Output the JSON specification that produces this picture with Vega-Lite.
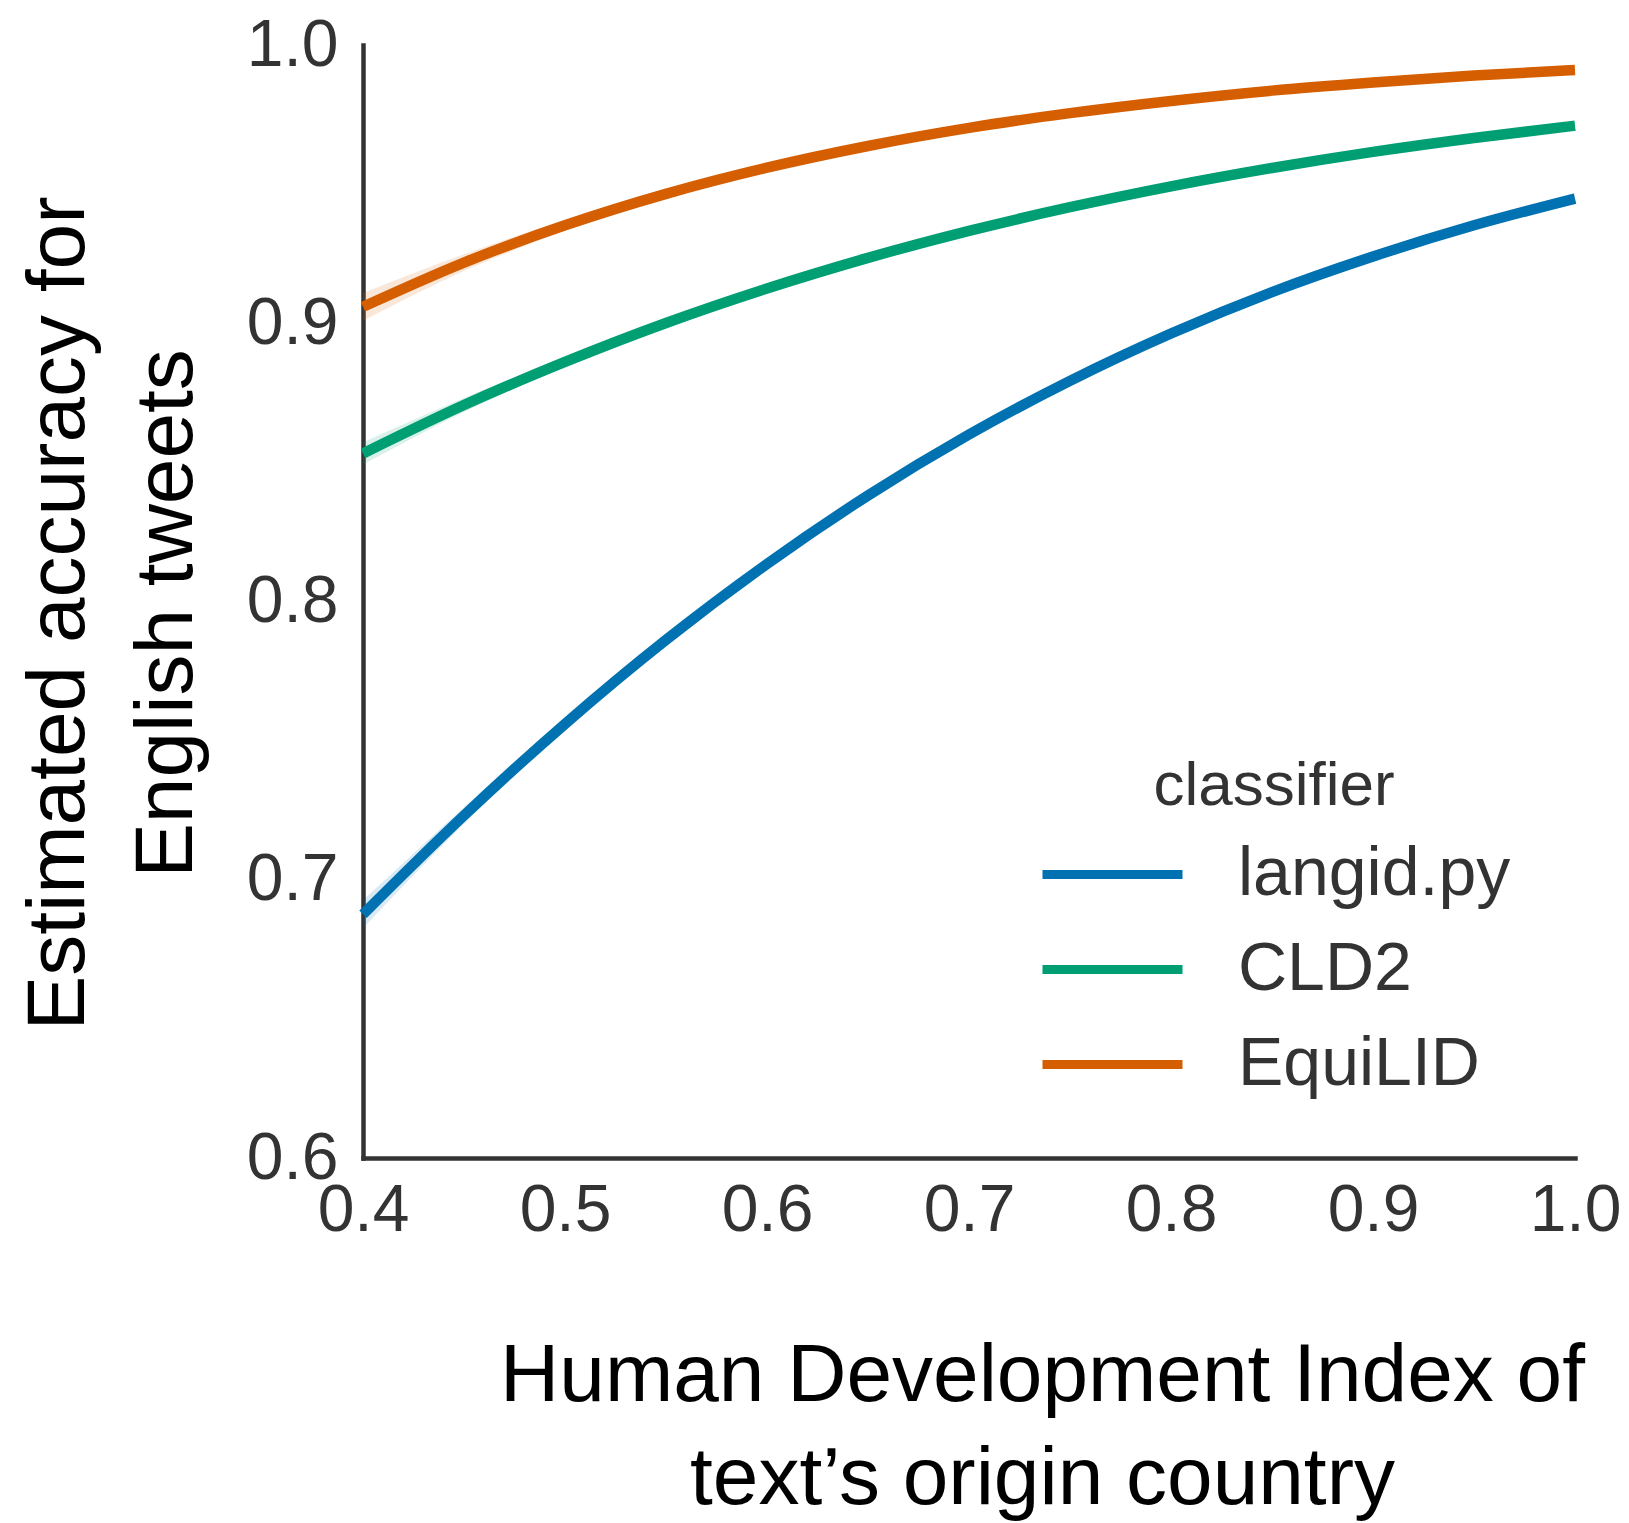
{
  "$schema": "https://vega.github.io/schema/vega-lite/v6.json",
  "autosize": {"type": "none"},
  "padding": {"left": 363, "top": 45, "right": 54, "bottom": 365},
  "width": 1212,
  "height": 1113,
  "background": "white",
  "config": {
    "view": {"stroke": null},
    "font": "Liberation Sans",
    "axis": {
      "domainColor": "#333333",
      "domainWidth": 4.5,
      "domainCap": "square",
      "ticks": false,
      "tickSize": 0,
      "grid": false,
      "labelFont": "Liberation Sans",
      "labelFontSize": 66,
      "labelColor": "#333333",
      "labelFlush": false,
      "labelOverlap": false,
      "titleFont": "Liberation Sans",
      "titleFontSize": 82,
      "titleFontWeight": "normal",
      "titleColor": "#000000"
    },
    "legend": {
      "labelFont": "Liberation Sans",
      "titleFont": "Liberation Sans"
    }
  },
  "data": {
    "values": [
      {"hdi": 0.40, "classifier": "langid.py", "acc": 0.6876, "lo": 0.6826, "hi": 0.6926},
      {"hdi": 0.45, "classifier": "langid.py", "acc": 0.7231, "lo": 0.7201, "hi": 0.7261},
      {"hdi": 0.50, "classifier": "langid.py", "acc": 0.7560, "lo": 0.7540, "hi": 0.7580},
      {"hdi": 0.55, "classifier": "langid.py", "acc": 0.7862, "lo": 0.7847, "hi": 0.7877},
      {"hdi": 0.60, "classifier": "langid.py", "acc": 0.8135, "lo": 0.8125, "hi": 0.8145},
      {"hdi": 0.65, "classifier": "langid.py", "acc": 0.8381, "lo": 0.8371, "hi": 0.8391},
      {"hdi": 0.70, "classifier": "langid.py", "acc": 0.8600, "lo": 0.8590, "hi": 0.8610},
      {"hdi": 0.75, "classifier": "langid.py", "acc": 0.8793, "lo": 0.8783, "hi": 0.8803},
      {"hdi": 0.80, "classifier": "langid.py", "acc": 0.8963, "lo": 0.8953, "hi": 0.8973},
      {"hdi": 0.85, "classifier": "langid.py", "acc": 0.9112, "lo": 0.9102, "hi": 0.9122},
      {"hdi": 0.90, "classifier": "langid.py", "acc": 0.9240, "lo": 0.9228, "hi": 0.9252},
      {"hdi": 0.95, "classifier": "langid.py", "acc": 0.9352, "lo": 0.9337, "hi": 0.9367},
      {"hdi": 1.00, "classifier": "langid.py", "acc": 0.9448, "lo": 0.9428, "hi": 0.9468},
      {"hdi": 0.40, "classifier": "CLD2", "acc": 0.8532, "lo": 0.8492, "hi": 0.8572},
      {"hdi": 0.45, "classifier": "CLD2", "acc": 0.8706, "lo": 0.8681, "hi": 0.8731},
      {"hdi": 0.50, "classifier": "CLD2", "acc": 0.8861, "lo": 0.8846, "hi": 0.8876},
      {"hdi": 0.55, "classifier": "CLD2", "acc": 0.9001, "lo": 0.8991, "hi": 0.9011},
      {"hdi": 0.60, "classifier": "CLD2", "acc": 0.9125, "lo": 0.9115, "hi": 0.9135},
      {"hdi": 0.65, "classifier": "CLD2", "acc": 0.9235, "lo": 0.9225, "hi": 0.9245},
      {"hdi": 0.70, "classifier": "CLD2", "acc": 0.9332, "lo": 0.9322, "hi": 0.9342},
      {"hdi": 0.75, "classifier": "CLD2", "acc": 0.9417, "lo": 0.9407, "hi": 0.9427},
      {"hdi": 0.80, "classifier": "CLD2", "acc": 0.9492, "lo": 0.9482, "hi": 0.9502},
      {"hdi": 0.85, "classifier": "CLD2", "acc": 0.9558, "lo": 0.9548, "hi": 0.9568},
      {"hdi": 0.90, "classifier": "CLD2", "acc": 0.9616, "lo": 0.9606, "hi": 0.9626},
      {"hdi": 0.95, "classifier": "CLD2", "acc": 0.9666, "lo": 0.9656, "hi": 0.9676},
      {"hdi": 1.00, "classifier": "CLD2", "acc": 0.9710, "lo": 0.9698, "hi": 0.9722},
      {"hdi": 0.40, "classifier": "EquiLID", "acc": 0.9059, "lo": 0.9009, "hi": 0.9109},
      {"hdi": 0.45, "classifier": "EquiLID", "acc": 0.9218, "lo": 0.9188, "hi": 0.9248},
      {"hdi": 0.50, "classifier": "EquiLID", "acc": 0.9352, "lo": 0.9332, "hi": 0.9372},
      {"hdi": 0.55, "classifier": "EquiLID", "acc": 0.9465, "lo": 0.9453, "hi": 0.9477},
      {"hdi": 0.60, "classifier": "EquiLID", "acc": 0.9559, "lo": 0.9549, "hi": 0.9569},
      {"hdi": 0.65, "classifier": "EquiLID", "acc": 0.9637, "lo": 0.9627, "hi": 0.9647},
      {"hdi": 0.70, "classifier": "EquiLID", "acc": 0.9702, "lo": 0.9692, "hi": 0.9712},
      {"hdi": 0.75, "classifier": "EquiLID", "acc": 0.9755, "lo": 0.9745, "hi": 0.9765},
      {"hdi": 0.80, "classifier": "EquiLID", "acc": 0.9799, "lo": 0.9789, "hi": 0.9809},
      {"hdi": 0.85, "classifier": "EquiLID", "acc": 0.9836, "lo": 0.9826, "hi": 0.9846},
      {"hdi": 0.90, "classifier": "EquiLID", "acc": 0.9865, "lo": 0.9855, "hi": 0.9875},
      {"hdi": 0.95, "classifier": "EquiLID", "acc": 0.9890, "lo": 0.9880, "hi": 0.9900},
      {"hdi": 1.00, "classifier": "EquiLID", "acc": 0.9910, "lo": 0.9900, "hi": 0.9920}
    ]
  },
  "encoding": {
    "x": {
      "field": "hdi",
      "type": "quantitative",
      "scale": {"domain": [0.4, 1.0], "nice": false, "zero": false},
      "axis": {
        "values": [0.4, 0.5, 0.6, 0.7, 0.8, 0.9, 1.0],
        "format": ".1f",
        "labelPadding": 20,
        "title": ["Human Development Index of", "text’s origin country"],
        "titleX": 679,
        "titleY": 242,
        "titleAlign": "center",
        "titleAnchor": null,
        "titleBaseline": "alphabetic",
        "titleLineHeight": 103
      }
    },
    "y": {
      "field": "acc",
      "type": "quantitative",
      "scale": {"domain": [0.6, 1.0], "nice": false, "zero": false},
      "axis": {
        "values": [0.6, 0.7, 0.8, 0.9, 1.0],
        "format": ".1f",
        "labelPadding": 25,
        "title": ["Estimated accuracy for", "English tweets"],
        "titleX": -280,
        "titleY": 568,
        "titleAngle": -90,
        "titleAlign": "center",
        "titleAnchor": null,
        "titleBaseline": "alphabetic",
        "titleLineHeight": 108
      }
    }
  },
  "layer": [
    {
      "mark": {"type": "area", "interpolate": "monotone", "opacity": 0.15},
      "encoding": {
        "y": {"field": "lo", "type": "quantitative"},
        "y2": {"field": "hi"},
        "color": {
          "field": "classifier",
          "type": "nominal",
          "sort": ["langid.py", "CLD2", "EquiLID"],
          "scale": {
            "domain": ["langid.py", "CLD2", "EquiLID"],
            "range": ["#0072B2", "#009E73", "#D55E00"]
          },
          "legend": null
        }
      }
    },
    {
      "mark": {"type": "line", "interpolate": "monotone", "strokeWidth": 10.5, "strokeCap": "butt"},
      "encoding": {
        "color": {
          "field": "classifier",
          "type": "nominal",
          "sort": ["langid.py", "CLD2", "EquiLID"],
          "scale": {
            "domain": ["langid.py", "CLD2", "EquiLID"],
            "range": ["#0072B2", "#009E73", "#D55E00"]
          },
          "legend": {
            "orient": "none",
            "legendX": 675,
            "legendY": 711,
            "padding": 0,
            "title": "classifier",
            "titleFontSize": 62,
            "titleFontWeight": "normal",
            "titleColor": "#333333",
            "titleAnchor": "middle",
            "titlePadding": 9,
            "titleLimit": 0,
            "labelFontSize": 68,
            "labelColor": "#333333",
            "labelOffset": 51,
            "labelLimit": 0,
            "symbolType": "stroke",
            "symbolStrokeWidth": 9,
            "symbolStrokeCap": "round",
            "symbolSize": 19600,
            "clipHeight": 95,
            "rowPadding": 0
          }
        }
      }
    }
  ],
  "resolve": {"legend": {"color": "independent"}}
}
